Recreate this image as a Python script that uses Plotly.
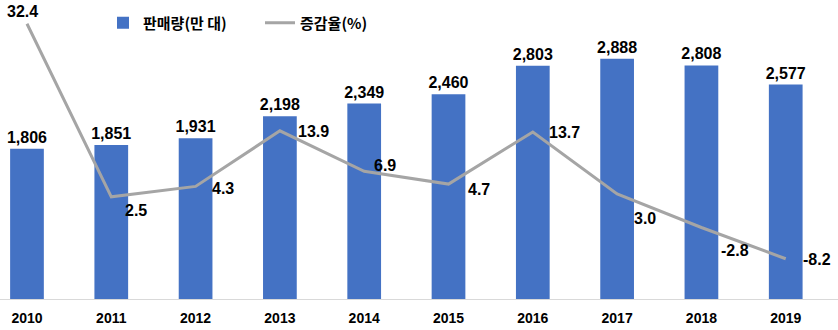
import plotly.graph_objects as go

# Annual sales (10k units) and year-over-year growth rate (%)
years = ["2010", "2011", "2012", "2013", "2014", "2015", "2016", "2017", "2018", "2019"]
sales = [1806, 1851, 1931, 2198, 2349, 2460, 2803, 2888, 2808, 2577]
growth = [32.4, 2.5, 4.3, 13.9, 6.9, 4.7, 13.7, 3.0, -2.8, -8.2]

sales_name = "판매량(만 대)"
growth_name = "증감율(%)"

# Pixel offsets (dx, dy) of each growth label from its point
growth_label_offsets = [(-4, 12), (25, -14), (27, -2), (34, -1), (21, 6),
                        (30, -5), (32, -1), (28, -25), (34, -23), (31, -1)]

BAR_COLOR = "#4472C4"
LINE_COLOR = "#A5A5A5"
NUM_FONT = "Liberation Sans, Arial, sans-serif"
KR_FONT = "Noto Sans CJK KR, sans-serif"

fig = go.Figure()

fig.add_trace(go.Bar(
    x=years, y=sales, name=sales_name,
    marker=dict(color=BAR_COLOR, line=dict(width=0)),
    width=0.4,
    text=[f"{v:,}" for v in sales],
    textposition="outside",
    constraintext="none",
    textfont=dict(family=NUM_FONT, size=16, color="#000000", weight="bold"),
    cliponaxis=False,
))

fig.add_trace(go.Scatter(
    x=years, y=growth, name=growth_name, yaxis="y2",
    mode="lines",
    line=dict(color=LINE_COLOR, width=3),
    cliponaxis=False,
))

# Growth labels, placed by category index on the shared x axis
for i, (g, (dx, dy)) in enumerate(zip(growth, growth_label_offsets)):
    fig.add_annotation(
        x=i, xref="x", y=g, yref="y2", text=f"{g:.1f}",
        showarrow=False, xanchor="center", yanchor="middle",
        xshift=dx, yshift=dy,
        font=dict(family=NUM_FONT, size=16, color="#000000", weight="bold"),
    )

fig.update_layout(
    width=838, height=330,
    margin=dict(l=0, r=0, t=0, b=31),
    paper_bgcolor="white", plot_bgcolor="white",
    showlegend=True,
    legend=dict(
        orientation="h", x=103 / 838, xanchor="left",
        y=1 - 23 / 299, yanchor="middle",
        font=dict(family=KR_FONT, size=15, color="#000000", weight="bold"),
        entrywidth=112, entrywidthmode="pixels",
        bgcolor="rgba(0,0,0,0)", borderwidth=0,
    ),
    xaxis=dict(
        type="category", range=[-0.32, 9.62],
        showgrid=False, zeroline=False,
        showline=True, linecolor="#D9D9D9", linewidth=1,
        ticks="", ticklabelstandoff=6,
        tickfont=dict(family=NUM_FONT, size=14, color="#000000", weight="bold"),
    ),
    yaxis=dict(range=[0, 3594], visible=False, showgrid=False, zeroline=False),
    yaxis2=dict(range=[-15.15, 36.5], overlaying="y", visible=False,
                showgrid=False, zeroline=False),
)

fig.write_html("out.html")
